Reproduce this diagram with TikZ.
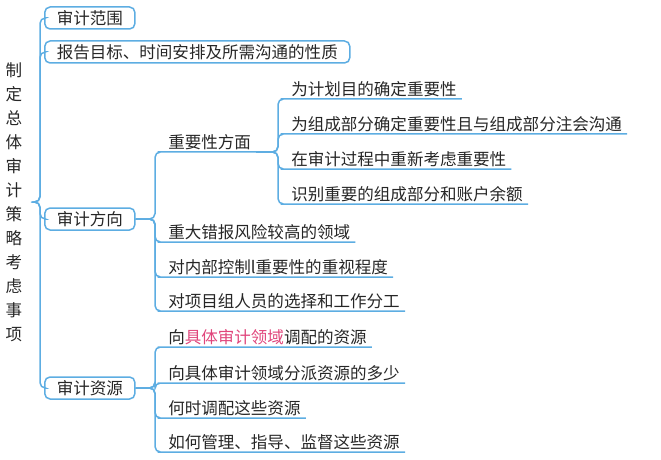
\documentclass[tikz,border=0pt]{standalone}
\usepackage{fontspec}
\newfontfamily\cjk{Noto Sans CJK SC}
\definecolor{lb}{HTML}{5DADE2}
\definecolor{pk}{HTML}{E0457B}
\begin{document}
\begin{tikzpicture}[x=0.75pt,y=-0.75pt,
 conn/.style={draw=lb,line width=1.5pt*0.75,rounded corners=4pt},
 txt/.style={font=\cjk\fontsize{12.4pt}{14pt}\selectfont,text=black!85,inner xsep=3.75pt,inner ysep=1.5pt},
 box/.style={txt,draw=lb,line width=1.5pt*0.75,rounded corners=4pt,minimum height=16.5pt,inner xsep=9pt,anchor=west},
 it/.style={txt,anchor=south west}]
\useasboundingbox (0,0) rectangle (661,460);
\node[font=\cjk\fontsize{12.4pt}{18pt}\selectfont,text=black!85,align=center] (root) at (14,202) {制\\定\\总\\体\\审\\计\\策\\略\\考\\虑\\事\\项};
\coordinate (r) at (36,202);
\node[box] (b1) at (44,18) {审计范围};
\node[box] (b2) at (44,52) {报告目标、时间安排及所需沟通的性质};
\node[box] (b3) at (44,219) {审计方向};
\node[box] (b4) at (44,388) {审计资源};
\foreach \b in {b1,b2,b3,b4}{\draw[conn] (r) -- (40,202) |- (\b.west);}
% level 2 under b3
\node[it] (m1) at (163,152) {重要性方面};
\node[it] (m2) at (163,242) {重大错报风险较高的领域};
\node[it] (m3) at (163,277) {对内部控制l重要性的重视程度};
\node[it] (m4) at (163,311) {对项目组人员的选择和工作分工};
\foreach \m in {m1,m2,m3,m4}{\draw[conn] (b3.east) -- (155,219) |- (\m.south west) -- (\m.south east);}
% level 3
\node[it] (n1) at (286,99) {为计划目的确定重要性};
\node[it] (n2) at (286,134) {为组成部分确定重要性且与组成部分注会沟通};
\node[it] (n3) at (286,169) {在审计过程中重新考虑重要性};
\node[it] (n4) at (286,204) {识别重要的组成部分和账户余额};
\foreach \n in {n1,n2,n3,n4}{\draw[conn] (m1.south east) -- (278,152) |- (\n.south west) -- (\n.south east);}
% under b4
\node[it] (s1) at (163,347) {向\textcolor{pk}{具体审计领域}调配的资源};
\node[it] (s2) at (163,383) {向具体审计领域分派资源的多少};
\node[it] (s3) at (163,418) {何时调配这些资源};
\node[it] (s4) at (163,452) {如何管理、指导、监督这些资源};
\foreach \s in {s1,s2,s3,s4}{\draw[conn] (b4.east) -- (155,388) |- (\s.south west) -- (\s.south east);}
\end{tikzpicture}
\end{document}
